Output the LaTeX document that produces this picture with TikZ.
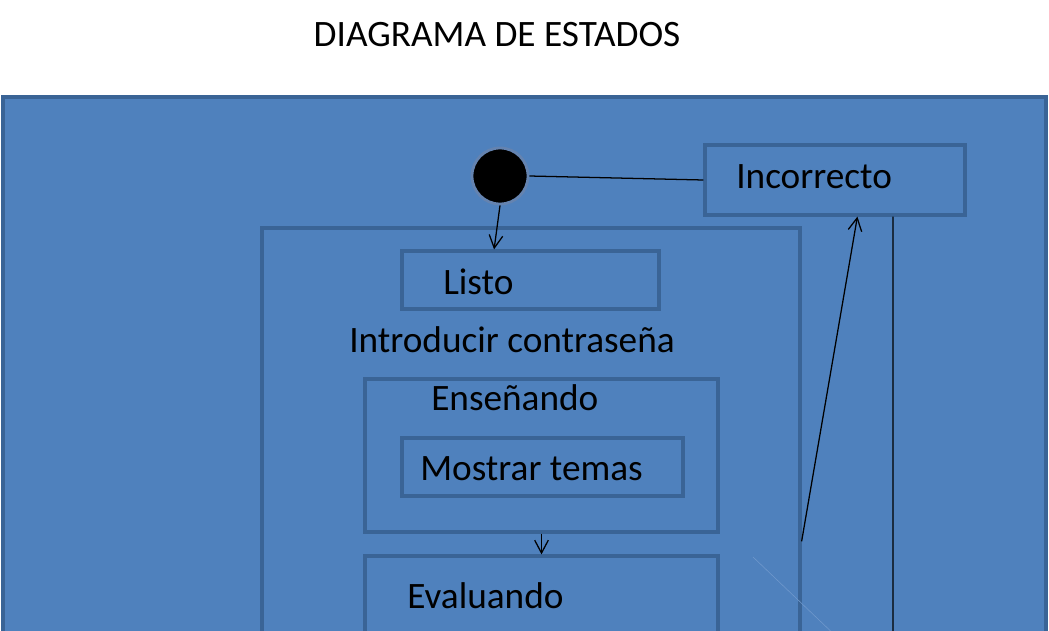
\documentclass[tikz,border=0pt]{standalone}
\usepackage{fontspec}
\setmainfont{Carlito}
\usepackage{tikz}
\usetikzlibrary{arrows.meta, positioning, fit, calc}
\definecolor{boxblue}{HTML}{4F81BD}
\definecolor{lineblue}{HTML}{3A6496}
\definecolor{ringblue}{HTML}{6483B0}
\definecolor{faintblue}{HTML}{7099CC}
\newcommand{\diagfont}{\fontsize{26.5}{30}\selectfont}

\begin{document}
\begin{tikzpicture}[
    x=0.025cm, y=-0.025cm,
    frame/.style={rectangle, draw=lineblue, fill=boxblue, line width=2.3pt, inner sep=0pt},
    statebox/.style={rectangle, draw=lineblue, line width=2.3pt, inner sep=0pt},
    init/.style={circle, fill=black, draw=ringblue, line width=2pt, minimum size=1.4cm, inner sep=0pt},
    txt/.style={inner sep=0pt, anchor=base west, font=\diagfont},
    link/.style={draw=black, line width=0.9pt},
    edge/.style={link, -{Straight Barb[length=3.2mm, width=3.4mm, line width=0.9pt]}}
]
\clip (0,0) rectangle (1049,630);

% Title
\node[txt, anchor=base] (title) at (497,47) {DIAGRAMA DE ESTADOS};

% Boxes
\node[frame, fit={(3,97) (1046,700)}] (canvas) {};
\node[statebox, fit={(262,228) (800,700)}] (intro) {};
\node[statebox, fit={(402,251) (659,309)}] (listo) {};
\node[statebox, fit={(365,379) (718,532)}] (ensenando) {};
\node[statebox, fit={(402,438) (683,496)}] (mostrar) {};
\node[statebox, fit={(365,556) (718,700)}] (evaluando) {};
\node[statebox, fit={(705,145) (965,215)}] (incorrecto) {};
\node[init] (start) at (500,176) {};

% Labels
\node[txt] (listoT) at (443,294) {Listo};
\node[txt] (introT) at (349,352) {Introducir contraseña};
\node[txt] (ensenandoT) at (431,410) {Enseñando};
\node[txt] (mostrarT) at (420,480) {Mostrar temas};
\node[txt] (evaluandoT) at (407,608) {Evaluando};
\node[txt] (incorrectoT) at (736,188) {Incorrecto};

% Edges
\coordinate (exit) at (893,700);
\coordinate (faintA) at (753,557);
\coordinate (faintB) at (840,640);
\draw[link] (start.east) -- (incorrecto.west);
\draw[edge] (start.south) -- ($(listo.north west)!0.36!(listo.north east)$);
\draw[edge] (ensenando.south) -- (evaluando.north);
\draw[edge] ($(intro.north east)+(0,315)$) -- ($(incorrecto.south west)+(154,0)$);
\draw[link] ($(incorrecto.south west)+(189.5,0)$) -- (exit);
\draw[faintblue, line width=0.4pt] (faintA) -- (faintB);

\end{tikzpicture}
\end{document}
